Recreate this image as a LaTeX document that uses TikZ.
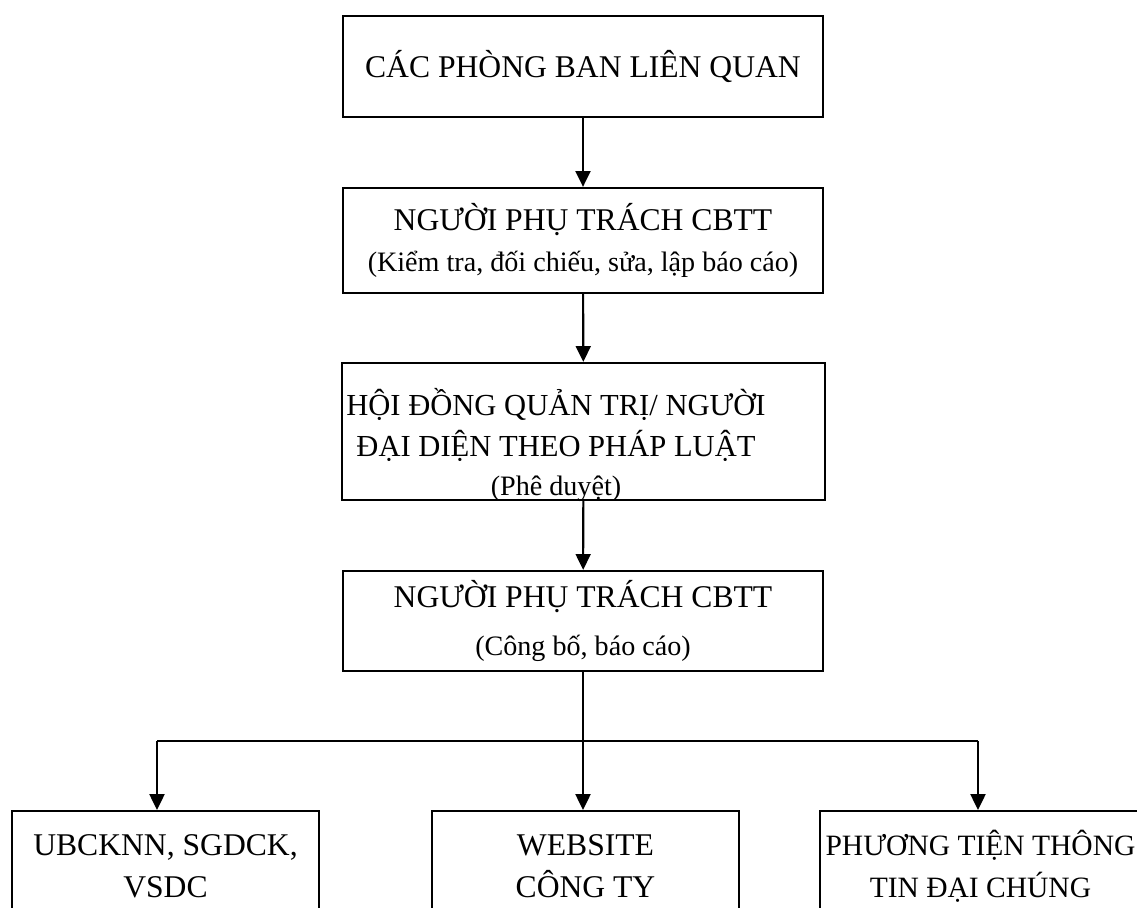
\documentclass[tikz,border=0pt]{standalone}
\usepackage{fontspec}
\setmainfont{Liberation Serif}
\usetikzlibrary{arrows.meta}
\begin{document}
\begin{tikzpicture}[x=0.02cm,y=-0.02cm,
  box/.style={draw,line width=1.3pt,inner sep=0pt,align=center,font=\fontsize{18}{24}\selectfont},
  arr/.style={line width=1.2pt,-{Triangle[length=9pt,width=8.5pt]}}]
\clip (0,0) rectangle (1137,908);
\node[box,minimum width=9.6cm,minimum height=2.02cm] (CP) at (583,66.5) {CÁC PHÒNG BAN LIÊN QUAN};
\node[box,minimum width=9.6cm,minimum height=2.1cm] (NP) at (583,240.5) {NGƯỜI PHỤ TRÁCH CBTT\\[-1pt]\fontsize{16}{20}\selectfont (Kiểm tra, đối chiếu, sửa, lập báo cáo)};
\node[box,minimum width=9.66cm,minimum height=2.74cm] (HD) at (583.5,431.5) {};
\node[align=center,inner sep=0pt,font=\fontsize{17.4}{24}\selectfont] (HDT) at (556,445) {HỘI ĐỒNG QUẢN TRỊ/ NGƯỜI\\[-1pt]ĐẠI DIỆN THEO PHÁP LUẬT\\[-2pt]\fontsize{16}{20}\selectfont (Phê duyệt)};
\node[box,minimum width=9.6cm,minimum height=2.0cm] (NC) at (583,621) {NGƯỜI PHỤ TRÁCH CBTT\\[3pt]\fontsize{16}{20}\selectfont (Công bố, báo cáo)};
\node[box,anchor=north,minimum width=6.14cm,minimum height=2.2cm] (UB) at (165.5,810) {UBCKNN, SGDCK,\\VSDC};
\node[box,anchor=north,minimum width=6.14cm,minimum height=2.2cm] (WS) at (585.5,810) {WEBSITE\\CÔNG TY};
\node[box,anchor=north,minimum width=6.42cm,minimum height=2.2cm,font=\fontsize{16.8}{24}\selectfont] (PT) at (980.5,810) {PHƯƠNG TIỆN THÔNG\\TIN ĐẠI CHÚNG};
\coordinate (L) at (157,741);
\coordinate (R) at (978,741);
\draw[line width=1.2pt] (L) -- (R);
\path[arr]
  (CP) edge (NP)
  (NP) edge (HD)
  (HD) edge (NC)
  (NC.south) edge (NC.south |- WS.north)
  (L) edge (L |- UB.north)
  (R) edge (R |- PT.north)
;
\end{tikzpicture}
\end{document}
